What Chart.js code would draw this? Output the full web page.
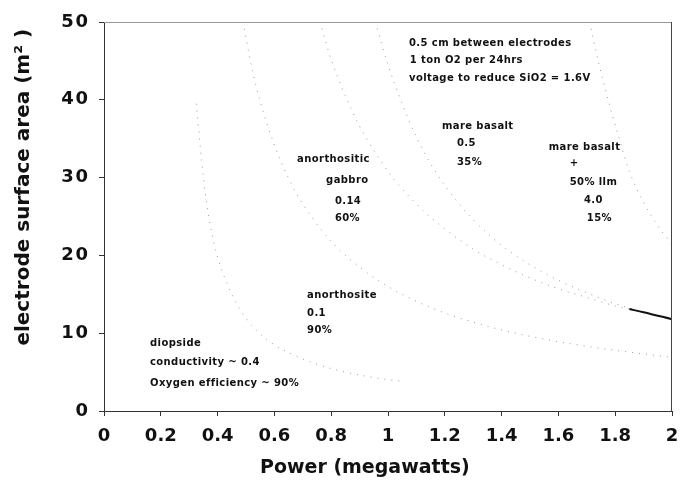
<!DOCTYPE html>
<html>
<head>
<meta charset="utf-8">
<script src="https://cdn.jsdelivr.net/npm/chart.js@4.4.0/dist/chart.umd.min.js"></script>
<style>
body { margin: 0; background: #fff; }
#wrap { width: 681px; height: 481px; }
</style>
</head>
<body>
<div id="wrap"><canvas id="myChart" width="681" height="481"></canvas></div>
<script>
// tick labels
var xTicks = ['0', '0.2', '0.4', '0.6', '0.8', '1', '1.2', '1.4', '1.6', '1.8', '2'];
var yTicks = ['0', '10', '20', '30', '40', '50'];

// power (MW) vs electrode area (m2)
var diopsideX = [0.325, 0.35, 0.375, 0.40, 0.45, 0.50, 0.55, 0.60, 0.65, 0.75, 0.85, 0.95, 1.05];
var diopsideY = [39.5, 30.0, 23.7, 19.8, 15.0, 11.9, 9.9, 8.5, 7.5, 6.0, 5.0, 4.3, 3.8];

var anorthositeX = [0.49, 0.52, 0.55, 0.60, 0.65, 0.70, 0.80, 0.90, 1.00, 1.10, 1.20, 1.35, 1.50, 1.65, 1.80, 2.00];
var anorthositeY = [50, 44.2, 39.8, 34.2, 29.9, 26.6, 21.8, 18.5, 16.0, 14.1, 12.6, 10.9, 9.6, 8.6, 7.8, 6.9];

var gabbroX = [0.76, 0.80, 0.85, 0.90, 1.00, 1.10, 1.20, 1.30, 1.40, 1.50, 1.60, 1.70, 1.80, 1.85, 1.90, 2.00];
var gabbroY = [50, 45.2, 40.5, 36.6, 30.8, 26.6, 23.4, 20.8, 18.8, 17.1, 15.7, 14.6, 13.5, 13.1, 12.7, 11.8];

var basaltX = [0.955, 1.00, 1.05, 1.10, 1.15, 1.20, 1.30, 1.40, 1.50, 1.60, 1.70, 1.80, 1.90, 2.00];
var basaltY = [50, 44.5, 39.5, 35.2, 31.8, 29.0, 24.6, 21.3, 18.8, 16.8, 15.2, 13.8, 12.7, 11.7];

var ilmeniteX = [1.71, 1.74, 1.775, 1.81, 1.85, 1.90, 1.95, 2.00];
var ilmeniteY = [50, 45, 40, 35.5, 30.8, 26.8, 23.8, 21.4];

// text notes placed in data units
var notes = [
  ['0.5 cm between electrodes', 1.074, 47.2],
  ['1 ton O2 per 24hrs', 1.077, 45.0],
  ['voltage to reduce SiO2 = 1.6V', 1.074, 42.8],
  ['mare basalt', 1.19, 36.6],
  ['0.5', 1.243, 34.4],
  ['35%', 1.243, 32.0],
  ['mare basalt', 1.566, 33.9],
  ['+', 1.655, 31.8, 'center'],
  ['50% llm', 1.64, 29.4],
  ['4.0', 1.69, 27.1],
  ['15%', 1.70, 24.7],
  ['anorthositic', 0.68, 32.3],
  ['gabbro', 0.782, 29.7],
  ['0.14', 0.813, 27.0],
  ['60%', 0.813, 24.8],
  ['anorthosite', 0.715, 14.8],
  ['0.1', 0.715, 12.6],
  ['90%', 0.715, 10.3],
  ['diopside', 0.162, 8.7],
  ['conductivity ~ 0.4', 0.162, 6.2],
  ['Oxygen efficiency ~ 90%', 0.162, 3.5]
];

function pts(xs, ys) {
  return xs.map(function (x, i) { return {x: x, y: ys[i]}; });
}

function curve(label, xs, ys) {
  return {
    label: label,
    data: pts(xs, ys),
    borderColor: '#999',
    borderWidth: 1,
    borderDash: [1, 6],
    pointRadius: 0,
    cubicInterpolationMode: 'monotone'
  };
}

// spread digits a hair, the original type is wide
function wide(s) {
  return s.replace(/(\d)(?=\d)/g, '$1\u200A');
}

var gabbro = curve('anorthositic gabbro', gabbroX, gabbroY);
gabbro.segment = {
  borderDash: function (c) { return c.p0.parsed.x >= 1.85 ? [] : undefined; },
  borderColor: function (c) { return c.p0.parsed.x >= 1.85 ? '#111' : undefined; },
  borderWidth: function (c) { return c.p0.parsed.x >= 1.85 ? 2 : undefined; }
};

var notesPlugin = {
  id: 'notes',
  afterDatasetsDraw: function (chart) {
    var c = chart.ctx, xs = chart.scales.x, ys = chart.scales.y, a = chart.chartArea;
    c.save();
    c.font = 'bold 10px "DejaVu Sans"';
    c.letterSpacing = '0.4px';
    c.fillStyle = '#111';
    c.textBaseline = 'middle';
    notes.forEach(function (n) {
      c.textAlign = n[3] || 'left';
      c.fillText(n[0], xs.getPixelForValue(n[1]), ys.getPixelForValue(n[2]));
    });
    c.letterSpacing = '0px';
    c.lineWidth = 1;
    c.strokeStyle = '#999';
    c.beginPath(); c.moveTo(a.left, a.top + 0.5); c.lineTo(a.right, a.top + 0.5); c.stroke();
    c.strokeStyle = '#444';
    c.beginPath(); c.moveTo(a.right - 0.5, a.top); c.lineTo(a.right - 0.5, a.bottom); c.stroke();
    c.restore();
  }
};

var tickFont = { family: '"DejaVu Sans", sans-serif', size: 18, weight: 'bold' };

var ctx = document.getElementById('myChart').getContext('2d');
var myChart = new Chart(ctx, {
    type: 'line',
    data: {
        datasets: [
            curve('diopside', diopsideX, diopsideY),
            curve('anorthosite', anorthositeX, anorthositeY),
            gabbro,
            curve('mare basalt', basaltX, basaltY),
            curve('mare basalt + 50% ilm', ilmeniteX, ilmeniteY)
        ]
    },
    options: {
        responsive: false,
        animation: false,
        layout: { padding: { top: 22, right: 9, left: 0, bottom: 0 } },
        plugins: {
            legend: { display: false },
            tooltip: { enabled: false }
        },
        scales: {
            x: {
                type: 'linear',
                min: 0,
                max: 2,
                afterFit: function (s) { s.height = 70; s.paddingRight = 0; },
                border: { display: true, color: '#333', width: 1 },
                grid: { drawOnChartArea: false, tickLength: 5, color: '#333' },
                ticks: {
                    stepSize: 0.2,
                    padding: 10,
                    color: '#111',
                    font: tickFont,
                    maxRotation: 0,
                    callback: function (v, i) { return wide(xTicks[i]); }
                },
                title: {
                    display: true,
                    // trailing spaces pull the centred title left, as in the original
                    text: 'Power (megawatts)       ',
                    color: '#111',
                    font: { family: '"DejaVu Sans", sans-serif', size: 19, weight: 'bold' },
                    padding: { top: 2, bottom: 2 }
                }
            },
            y: {
                min: 0,
                max: 50,
                afterFit: function (s) { s.width = 104; },
                border: { display: true, color: '#333', width: 1 },
                grid: { drawOnChartArea: false, tickLength: 5, color: '#333' },
                ticks: {
                    stepSize: 10,
                    padding: 11,
                    color: '#111',
                    font: tickFont,
                    callback: function (v, i) { return wide(yTicks[i]); }
                },
                title: {
                    display: true,
                    text: 'electrode surface area (m\u00b2 ) ',
                    align: 'end',
                    color: '#111',
                    font: { family: '"DejaVu Sans", sans-serif', size: 20, weight: 'bold' },
                    padding: { top: 12, bottom: 0 }
                }
            }
        }
    },
    plugins: [notesPlugin]
});
</script>
</body>
</html>
